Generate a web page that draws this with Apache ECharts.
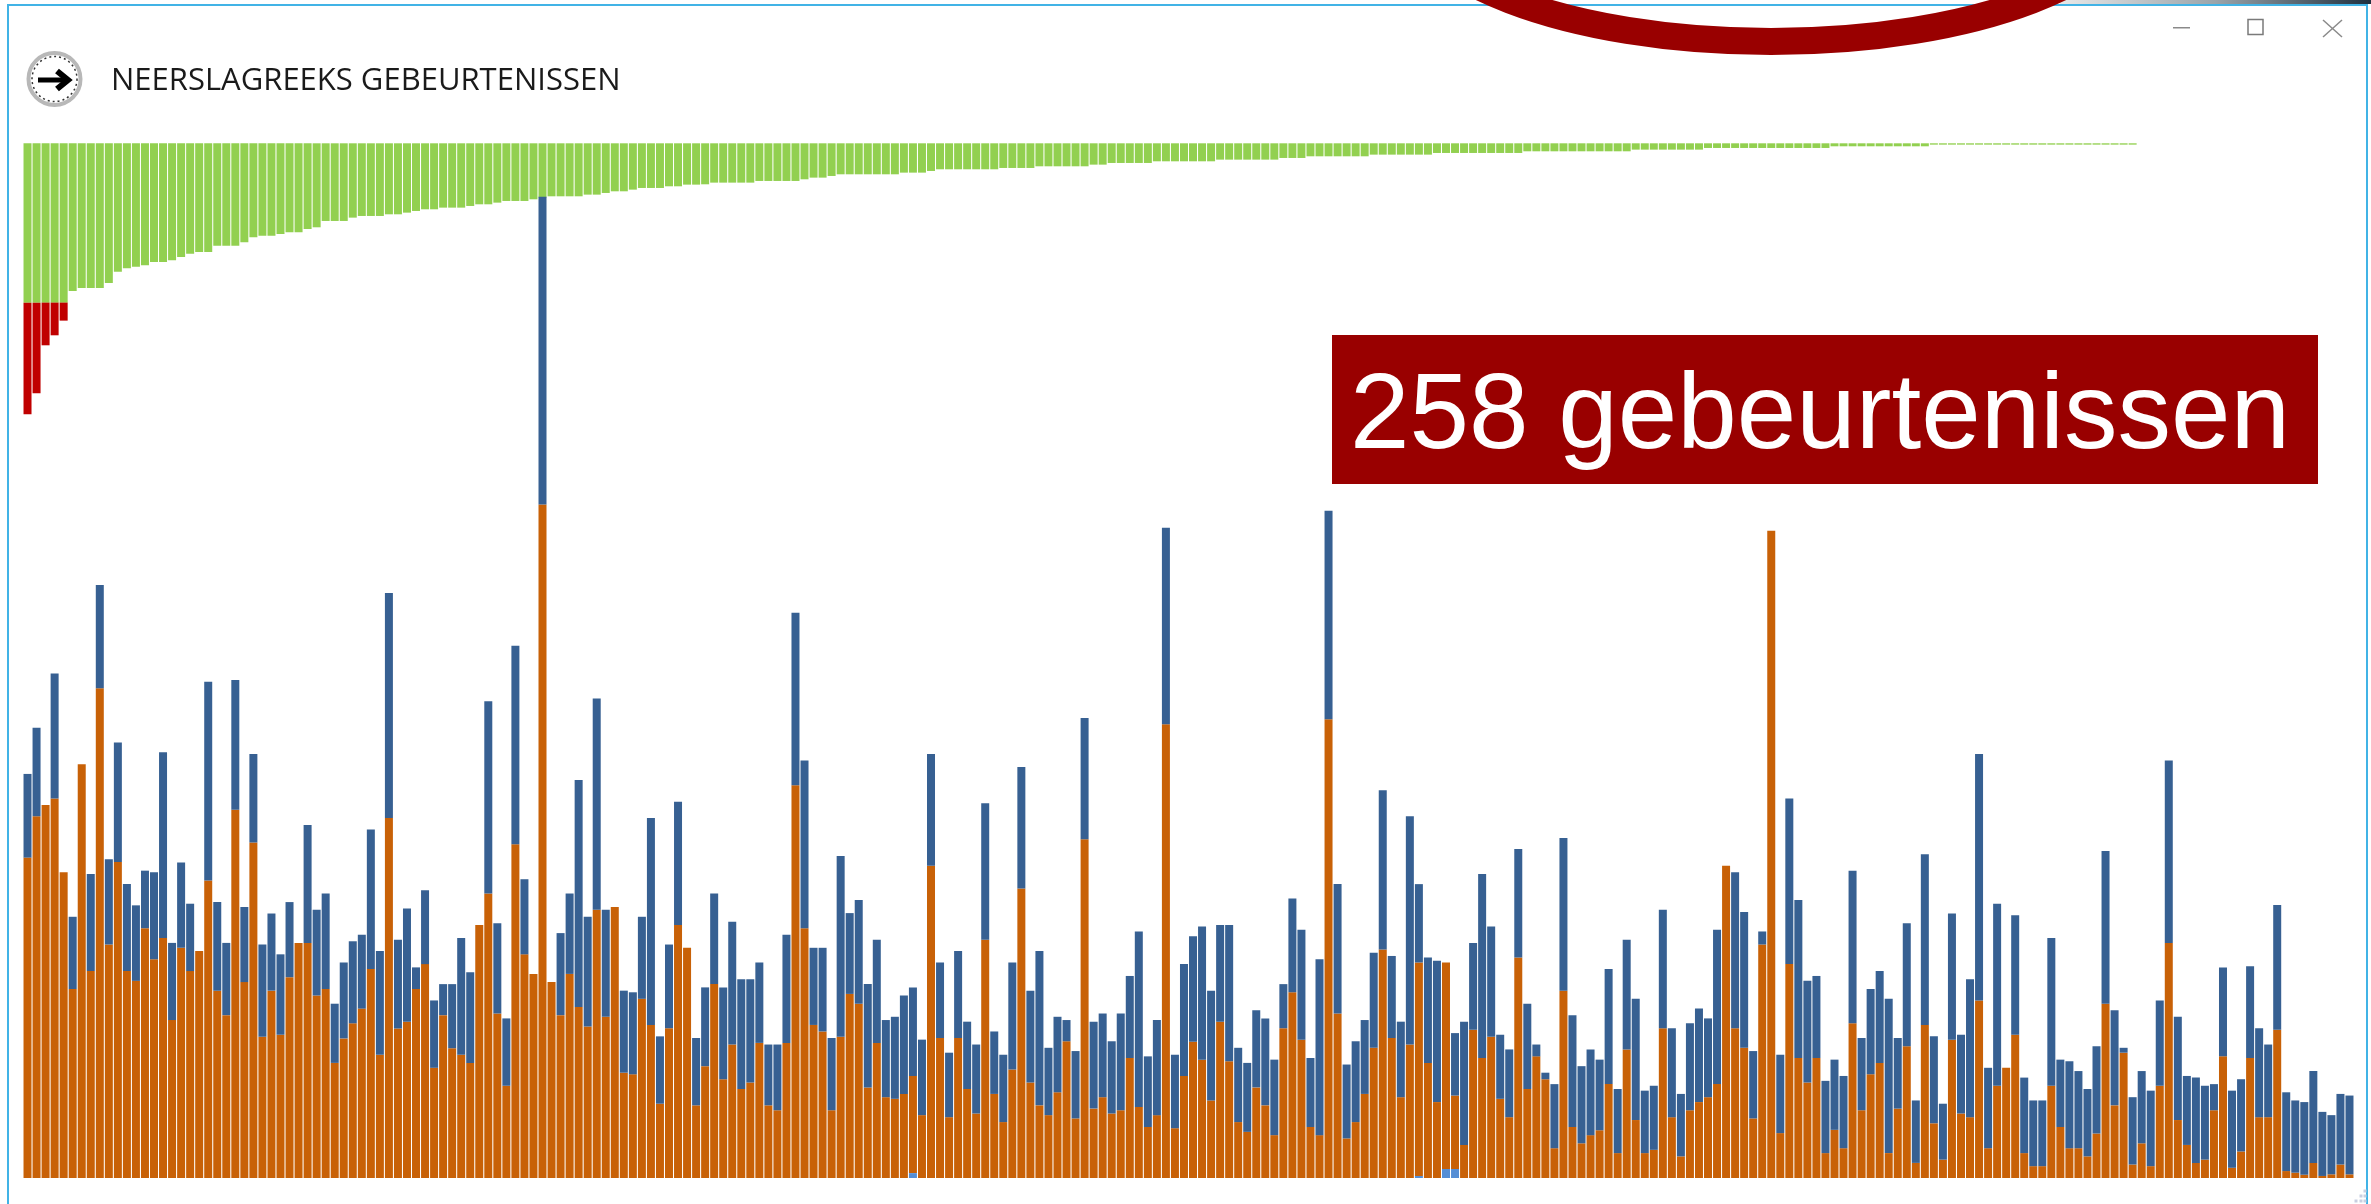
<!DOCTYPE html>
<html>
<head>
<meta charset="utf-8">
<title>Neerslagreeks gebeurtenissen</title>
<style>html,body{margin:0;padding:0;background:#fff}#c{width:2371px;height:1204px}</style>
<script src="https://cdn.jsdelivr.net/npm/echarts@6/dist/echarts.min.js"></script>
</head>
<body>
<div id="c"></div>
<script>
const titleText = "NEERSLAGREEKS GEBEURTENISSEN";
const bannerText = "258 gebeurtenissen";

// upper panel: duration-like sorted bars, hanging from the top
const greenValues = [
478,478,478,478,478,443,434,434,434,419,
385,375,370,366,356,356,351,341,331,326,
326,307,307,307,297,282,277,277,272,267,
267,257,252,233,233,233,223,218,218,218,
213,213,208,203,198,198,193,193,193,188,
183,183,178,173,173,173,168,163,159,159,
159,159,154,154,149,144,144,139,134,134,
134,129,129,124,124,123,118,118,118,118,
118,113,113,113,113,113,108,103,103,98,
93,93,93,93,93,93,93,88,88,88,
83,78,78,78,78,78,78,78,74,74,
74,74,69,69,69,69,69,69,64,64,
59,59,59,59,59,54,54,54,54,54,
54,54,49,49,49,49,49,49,49,44,
44,44,39,39,39,39,39,39,39,34,
34,34,34,34,34,34,29,29,29,29,
29,29,29,29,29,29,24,24,24,24,
24,24,24,24,24,24,24,24,19,19,
19,19,19,19,19,19,14,14,14,14,
14,14,14,14,14,14,14,14,14,14,
9,9,9,9,9,9,9,9,9,9,
9,4,4,4,4,4,4,4,4,4,
4,4,4,4,4,4,4,4,4,4,
4,4,4,4];
const redValues = [335,272,128,98,54];

// lower panel: stacked bars
const orangeValues = [
785,886,914,930,749,463,1014,507,1200,572,
774,507,483,612,536,588,387,564,507,556,
729,459,399,902,480,822,346,459,351,492,
576,576,447,463,282,342,379,415,512,302,
882,366,383,463,524,270,399,318,302,282,
620,697,403,226,818,548,500,1650,480,399,
500,419,371,657,395,664,258,254,439,375,
182,367,620,564,178,274,475,242,327,218,
234,331,178,166,331,962,612,375,359,166,
346,451,427,222,331,198,194,206,238,154,
765,343,149,343,218,158,584,206,137,266,
709,234,178,154,210,335,146,830,170,198,
158,166,294,174,125,154,1112,122,250,334,
290,190,383,286,137,113,222,178,105,367,
455,339,125,105,1124,403,97,137,206,319,
560,343,198,327,523,282,186,506,180,81,
363,294,346,194,149,540,218,298,242,73,
459,125,85,105,117,230,61,315,142,61,
69,367,149,53,166,186,198,230,765,367,
319,146,572,1586,110,524,294,234,294,61,
118,73,379,166,254,282,61,170,323,37,
375,134,45,339,158,149,435,73,226,270,
351,61,29,29,226,125,73,73,53,109,
427,178,307,33,85,29,226,576,142,81,
37,45,166,298,25,65,294,149,149,363,
17,13,8,37,5,9,33,9];
const blueValues = [
205,217,0,306,0,177,0,238,253,209,
293,213,185,141,213,455,189,209,165,0,
487,217,177,318,184,217,226,189,197,184,
0,289,210,234,145,186,201,181,342,254,
551,218,277,53,181,165,76,157,286,222,
0,471,221,165,486,184,0,754,0,201,
197,556,269,518,262,0,201,201,201,507,
165,205,302,0,165,193,222,225,301,269,
253,197,149,161,265,423,411,189,205,177,
443,198,254,253,253,189,201,241,217,185,
274,185,158,213,165,169,334,153,165,262,
298,225,378,165,185,52,165,297,213,205,
177,237,201,430,173,233,481,180,274,258,
326,269,237,334,182,169,189,213,185,108,
230,269,169,431,511,317,181,198,181,233,
390,201,185,559,192,258,346,0,153,302,
213,451,270,157,166,266,209,29,16,157,
374,274,189,210,173,282,157,269,297,153,
157,290,218,153,213,229,193,378,0,382,
333,165,32,0,192,406,387,249,201,177,
172,177,374,177,209,225,378,173,301,153,
418,213,137,309,193,338,604,197,446,0,
293,185,161,161,362,165,213,189,165,214,
374,233,12,165,177,185,209,447,253,169,
209,181,64,218,189,177,225,218,178,306,
193,177,178,225,157,145,173,193];
// small light-blue segments at the foot of four bars (event number, value)
const lightEvents = [99,155,158,159];
const lightValues = [12,5,22,22];

const categories = orangeValues.map((_, i) => String(i + 1));
const lightSeries = categories.map(() => 0);
lightEvents.forEach((n, k) => { lightSeries[n - 1] = lightValues[k]; });

const chart = echarts.init(document.getElementById('c'), null, {renderer: 'canvas'});
const BW = 8;
const mkBar = (name, data, color, x, stack) => ({
  name, type: 'bar', data, xAxisIndex: x, yAxisIndex: x, stack,
  barWidth: BW, silent: true, itemStyle: {color}
});
const border = '#41b3e6';
const gDots = [[2365,1191],[2361,1196],[2365,1196],[2356,1201],[2361,1201],[2365,1201]];

chart.setOption({
  animation: false,
  backgroundColor: '#ffffff',
  tooltip: {show: false},
  grid: [
    {left: 23, width: 2331, top: 143.3, height: 300},
    {left: 23, width: 2331, top: 157.6, height: 1020.4}
  ],
  xAxis: [
    {type: 'category', gridIndex: 0, data: categories, show: false},
    {type: 'category', gridIndex: 1, data: categories, show: false}
  ],
  yAxis: [
    {type: 'value', gridIndex: 0, min: 0, max: 900, inverse: true, show: false},
    {type: 'value', gridIndex: 1, min: 0, max: 2500, show: false}
  ],
  series: [
    mkBar('Duur', greenValues, '#92d050', 0, 'top'),
    mkBar('Duur extra', redValues, '#c00000', 0, 'top'),
    mkBar('Basis', lightSeries, '#558ed5', 1, 'low'),
    mkBar('Deel 1', orangeValues, '#c86107', 1, 'low'),
    mkBar('Deel 2', blueValues, '#376092', 1, 'low')
  ],
  graphic: {elements: [
    // window frame
    {type: 'rect', z: 50, silent: true, shape: {x: 7, y: 4, width: 2, height: 1200}, style: {fill: border}},
    {type: 'rect', z: 50, silent: true, shape: {x: 7, y: 4, width: 2360, height: 2}, style: {fill: border}},
    {type: 'rect', z: 50, silent: true, shape: {x: 2366, y: 4, width: 2, height: 1200}, style: {fill: border}},
    {type: 'rect', z: 50, silent: true, shape: {x: 2060, y: 0, width: 311, height: 4},
      style: {fill: new echarts.graphic.LinearGradient(0, 0, 1, 0, [
        {offset: 0, color: '#e8e8e8'}, {offset: 0.5, color: '#9aa4aa'}, {offset: 1, color: '#1f3040'}
      ])}},
    // red ring cut by the top edge
    {type: 'ellipse', z: 60, silent: true, shape: {cx: 1771, cy: -100, rx: 369, ry: 141.5},
      style: {fill: 'none', stroke: '#990000', lineWidth: 27}},
    // round icon
    {type: 'circle', z: 60, silent: true, shape: {cx: 54.5, cy: 79, r: 26}, style: {fill: '#fff', stroke: '#b8b8b8', lineWidth: 4}},
    {type: 'circle', z: 60, silent: true, shape: {cx: 54.5, cy: 79, r: 22.5}, style: {fill: '#fff', stroke: '#333', lineWidth: 1.5, lineDash: [2, 3]}},
    {type: 'line', z: 61, silent: true, shape: {x1: 38, y1: 80, x2: 68, y2: 80}, style: {stroke: '#000', lineWidth: 5}},
    {type: 'polyline', z: 61, silent: true, shape: {points: [[57, 71], [68, 80], [57, 89]]}, style: {fill: 'none', stroke: '#000', lineWidth: 6}},
    // title
    {type: 'text', z: 60, silent: true, x: 111, y: 81,
      style: {text: titleText, fill: '#1a1a1a', font: '400 31px "Open Sans"', verticalAlign: 'middle'}},
    // window controls
    {type: 'rect', z: 60, silent: true, shape: {x: 2173, y: 27, width: 17, height: 1.5}, style: {fill: '#8a8a8a'}},
    {type: 'rect', z: 60, silent: true, shape: {x: 2248, y: 19.5, width: 15, height: 15}, style: {fill: 'none', stroke: '#7a7a7a', lineWidth: 1.5}},
    {type: 'line', z: 60, silent: true, shape: {x1: 2323, y1: 20, x2: 2342, y2: 37}, style: {stroke: '#8a8a8a', lineWidth: 1.5}},
    {type: 'line', z: 60, silent: true, shape: {x1: 2342, y1: 20, x2: 2323, y2: 37}, style: {stroke: '#8a8a8a', lineWidth: 1.5}},
    // banner
    {type: 'rect', z: 70, silent: true, shape: {x: 1332, y: 335, width: 986, height: 149}, style: {fill: '#990000'}},
    {type: 'text', z: 71, silent: true, x: 1350, y: 418,
      style: {text: bannerText, fill: '#fff', font: '107px "Liberation Sans"', verticalAlign: 'middle'}},
    // resize grip
    ...gDots.map(([x, y]) => ({type: 'rect', z: 60, silent: true, shape: {x: x - 1.5, y: y - 1.5, width: 3, height: 3}, style: {fill: '#c8cfe0'}}))
  ]}
});
</script>
</body>
</html>
